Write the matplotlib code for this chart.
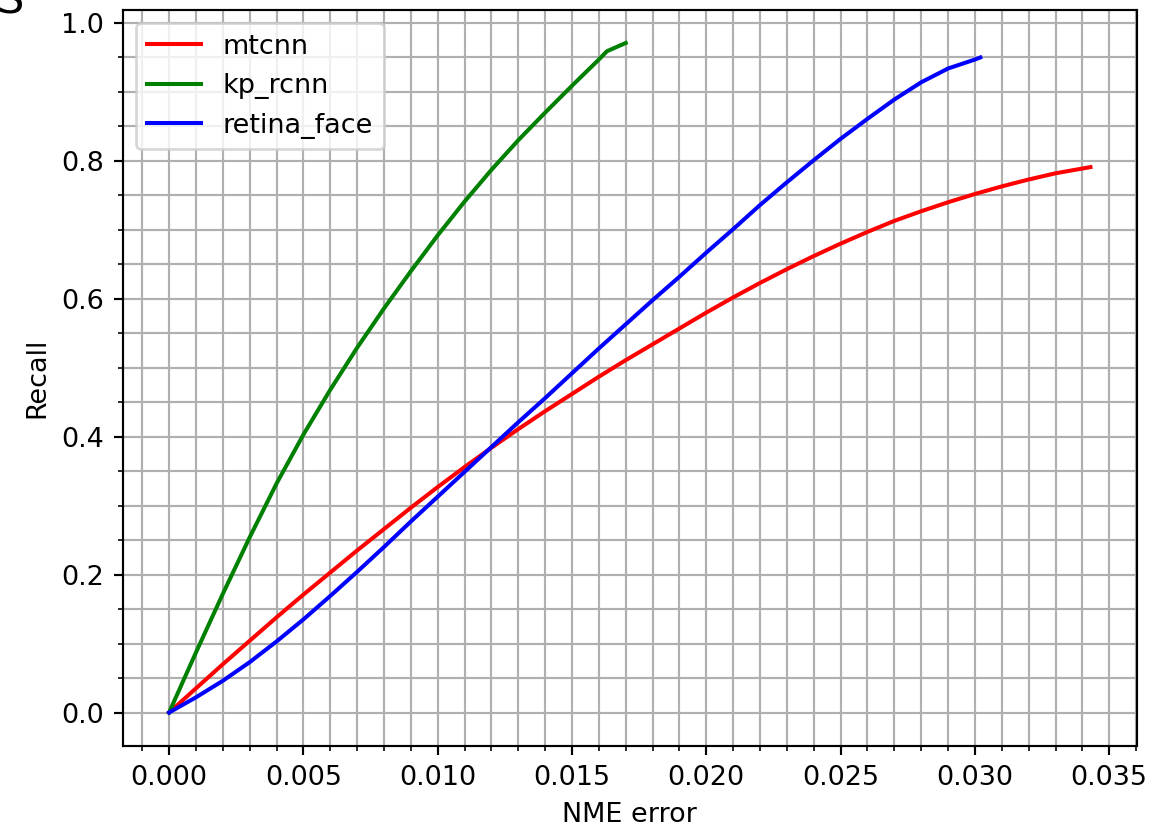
import numpy as np
import matplotlib
matplotlib.use("Agg")
import matplotlib.pyplot as plt

# NME error thresholds and recall values
mtcnn_x = [0.0, 0.001, 0.002, 0.003, 0.004, 0.005, 0.006, 0.007, 0.008, 0.009,
           0.010, 0.011, 0.012, 0.013, 0.014, 0.015, 0.016, 0.017, 0.018, 0.019,
           0.020, 0.021, 0.022, 0.023, 0.024, 0.025, 0.026, 0.027, 0.028, 0.029,
           0.030, 0.031, 0.032, 0.033, 0.0343]
mtcnn_y = [0.0, 0.035, 0.070, 0.104, 0.138, 0.171, 0.203, 0.235, 0.266, 0.297,
           0.327, 0.356, 0.384, 0.411, 0.437, 0.462, 0.487, 0.511, 0.534, 0.557,
           0.580, 0.602, 0.623, 0.643, 0.662, 0.680, 0.697, 0.713, 0.727, 0.740,
           0.752, 0.763, 0.773, 0.782, 0.791]

kp_rcnn_x = [0.0, 0.001, 0.002, 0.003, 0.004, 0.005, 0.006, 0.007, 0.008, 0.009,
             0.010, 0.011, 0.012, 0.013, 0.014, 0.015, 0.016, 0.0163, 0.017]
kp_rcnn_y = [0.0, 0.087, 0.172, 0.254, 0.332, 0.403, 0.468, 0.529, 0.586, 0.640,
             0.692, 0.741, 0.787, 0.830, 0.870, 0.909, 0.947, 0.959, 0.971]

retina_x = [0.0, 0.001, 0.002, 0.003, 0.004, 0.005, 0.006, 0.007, 0.008, 0.009,
            0.010, 0.011, 0.012, 0.013, 0.014, 0.015, 0.016, 0.017, 0.018, 0.019,
            0.020, 0.021, 0.022, 0.023, 0.024, 0.025, 0.026, 0.027, 0.028, 0.029,
            0.030, 0.0302]
retina_y = [0.0, 0.022, 0.046, 0.073, 0.103, 0.135, 0.169, 0.204, 0.240, 0.277,
            0.313, 0.349, 0.385, 0.421, 0.456, 0.492, 0.528, 0.563, 0.598, 0.632,
            0.667, 0.701, 0.736, 0.769, 0.801, 0.832, 0.861, 0.889, 0.914, 0.934,
            0.947, 0.950]

fig = plt.figure(figsize=(1172 / 194, 826 / 194), dpi=194)
ax = fig.add_axes([123 / 1172, 1 - 746 / 826, (1136.5 - 123) / 1172, (746 - 9.5) / 826])

ax.plot(mtcnn_x, mtcnn_y, color="red", label="mtcnn")
ax.plot(kp_rcnn_x, kp_rcnn_y, color="green", label="kp_rcnn")
ax.plot(retina_x, retina_y, color="blue", label="retina_face")

ax.minorticks_on()
ax.grid(which="both")
ax.set_xlabel("NME error")
ax.set_ylabel("Recall")
ax.legend(loc="upper left")

# clipped glyph peeking in at the top-left corner of the screenshot
fig.text(-0.003, 1 - 13 / 826, "S", fontsize=16, ha="left", va="baseline")

fig.savefig("out.png", dpi=194)
